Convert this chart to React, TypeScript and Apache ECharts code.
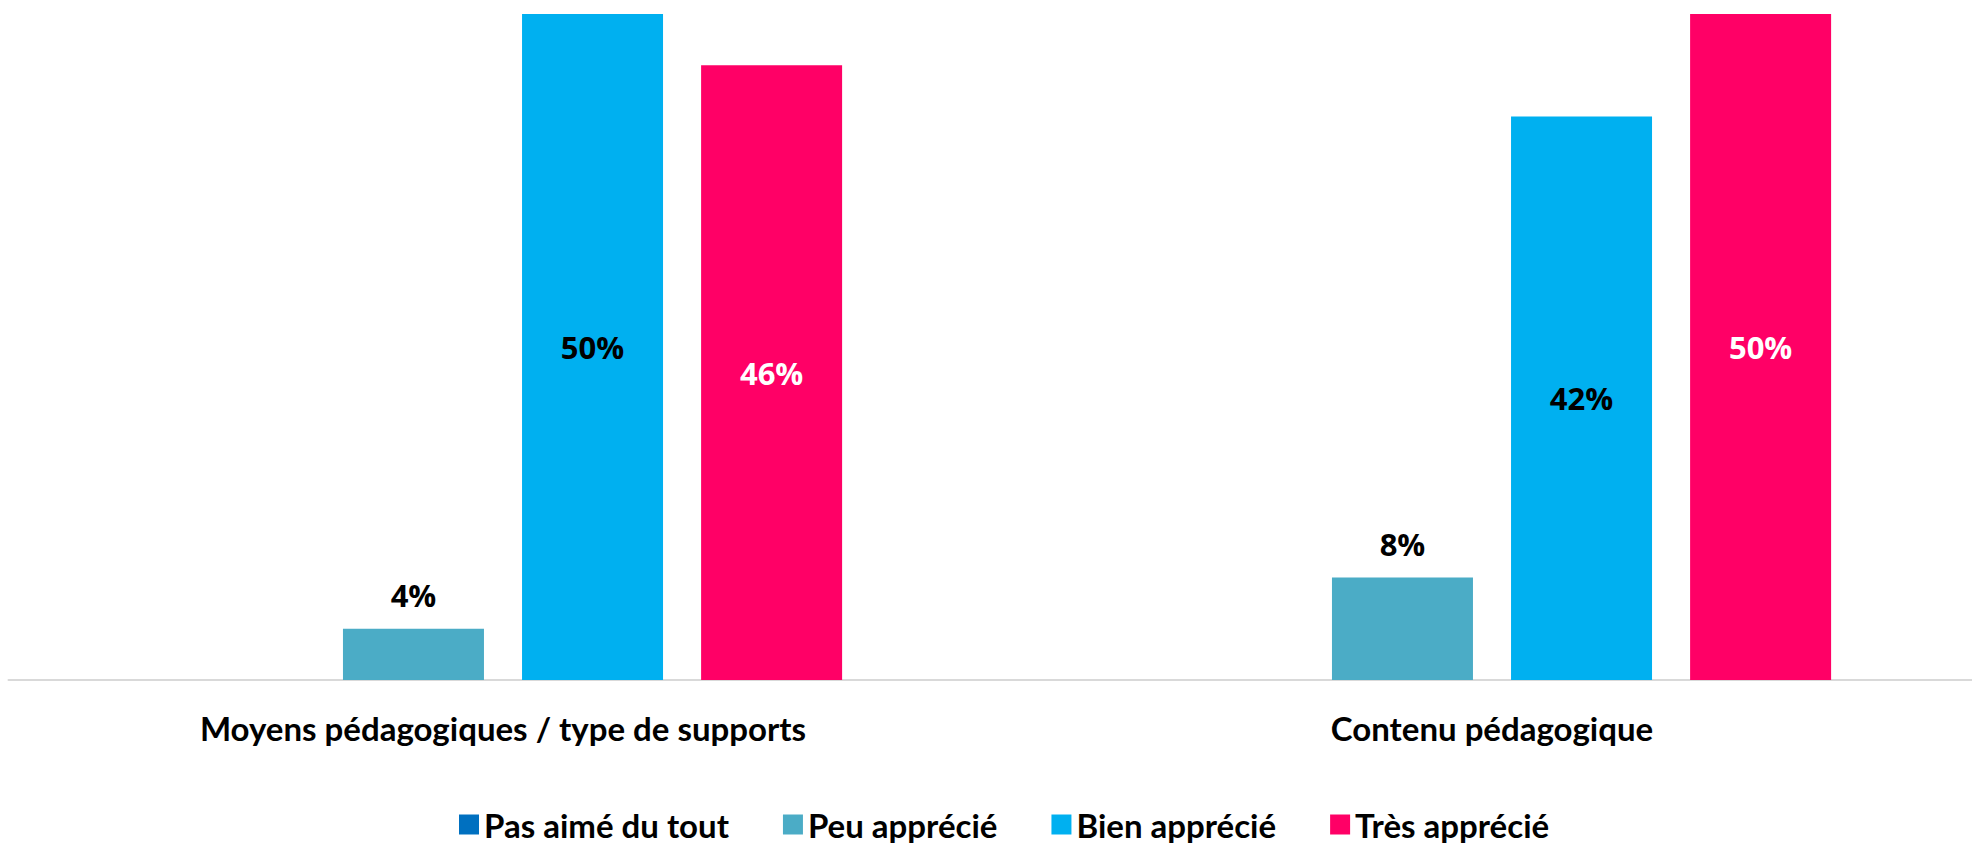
import React, { useEffect, useRef } from "react";
import * as echarts from "echarts";

const categories = ["Moyens pédagogiques / type de supports", "Contenu pédagogique"];
const seriesNames = ["Pas aimé du tout", "Peu apprécié", "Bien apprécié", "Très apprécié"];
const pasAime = [0, 0];
const peuApprecie = [3.85, 7.69];
const bienApprecie = [50, 42.31];
const tresApprecie = [46.15, 50];
const colors = ["#0070C0", "#4BACC6", "#00B0F0", "#FF0066"];

const axisFont = "Lato, 'Open Sans', sans-serif";
const labelFont = "'Open Sans', sans-serif";

export default function App() {
  const ref = useRef<HTMLDivElement>(null);
  useEffect(() => {
    document.body.style.margin = "0";
    document.body.style.overflow = "hidden";
    const chart = echarts.init(ref.current!, null, { renderer: "svg" });
    const values = [pasAime, peuApprecie, bienApprecie, tresApprecie];
    const labelPos = ["top", "top", "inside", "inside"];
    const labelColor = ["#000", "#000", "#000", "#fff"];
    chart.setOption({
      animation: false,
      grid: { left: 8.5, width: 1978, top: 14, height: 666, containLabel: false },
      legend: {
        left: 459,
        top: 808,
        padding: 0,
        itemWidth: 20,
        itemHeight: 20,
        itemGap: 54,
        icon: "rect",
        data: seriesNames,
        textStyle: {
          fontFamily: axisFont,
          fontWeight: "bold",
          fontSize: 33,
          lineHeight: 30,
          color: "#000",
        },
      },
      xAxis: {
        type: "category",
        data: categories,
        axisLine: { show: true, lineStyle: { color: "#D9D9D9", width: 2 } },
        axisTick: { show: false },
        axisLabel: {
          margin: 31,
          fontFamily: axisFont,
          fontWeight: "bold",
          fontSize: 33,
          color: "#000",
        },
      },
      yAxis: {
        type: "value",
        min: 0,
        max: 50,
        show: false,
        splitLine: { show: false },
      },
      series: seriesNames.map((name, i) => ({
        name,
        type: "bar",
        data: values[i],
        barWidth: 141,
        barGap: "27%",
        itemStyle: { color: colors[i] },
        label: {
          show: i !== 0,
          position: labelPos[i],
          distance: 18,
          formatter: (p: any) => Math.round(p.value) + "%",
          fontFamily: labelFont,
          fontWeight: "bold",
          fontSize: 31,
          color: labelColor[i],
        },
      })),
    });
    return () => chart.dispose();
  }, []);
  return (
    <div style={{ width: 1972, height: 843, overflow: "hidden" }}>
      <div ref={ref} style={{ width: 2010, height: 843 }} />
    </div>
  );
}
